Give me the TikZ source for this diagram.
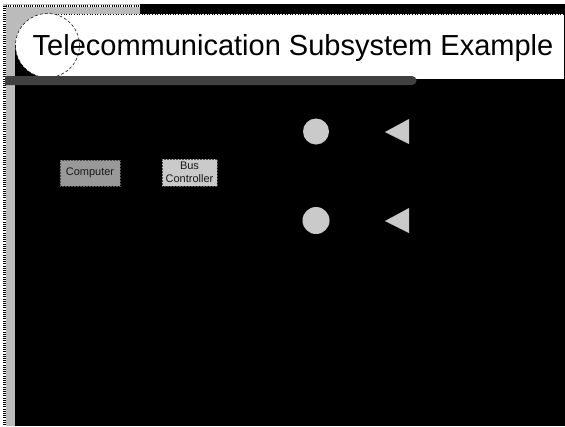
\documentclass[tikz,border=0pt]{standalone}
\usepackage{fontspec}
\setmainfont{Liberation Sans}
\definecolor{stripgray}{HTML}{BBBBBB}
\definecolor{bardark}{HTML}{404040}
\definecolor{compgray}{HTML}{999999}
\definecolor{lightgray}{HTML}{CACACA}
\tikzset{
  frame/.style={draw=black, line width=0.6pt, dotted},
  blockbox/.style={draw=black!70, line width=0.5pt, densely dotted, inner sep=1pt, align=center,
    font=\fontsize{11}{12.5}\selectfont, text=black!90},
  dot/.style={circle, fill=lightgray, draw=lightgray!70!black, line width=0.3pt, densely dotted, inner sep=0pt},
  tri/.style={fill=lightgray, draw=lightgray!70!black, line width=0.3pt, densely dotted},
}
\begin{document}
\begin{tikzpicture}[x=1pt,y=-1pt]
\useasboundingbox (0,0) rectangle (565,426);
% background
\fill[white] (0,0) rectangle (565,426);
\fill[black] (3,4) rectangle (565,426);
% gray decorative strip
\fill[stripgray] (3,4) rectangle (15,426);
\fill[stripgray] (3,4) rectangle (140,14);
\fill[stripgray] (15,14) rectangle (48,46);
\draw[white, line width=2.4pt] (4.5,6) -- (4.5,426);
\draw[black, line width=2.4pt, dash pattern=on 1pt off 1.2pt] (4.5,6) -- (4.5,426);
\draw[white, line width=2pt] (6,5.5) -- (140,5.5);
\draw[black, line width=2pt, dash pattern=on 1pt off 1.2pt] (6,5.5) -- (140,5.5);
% title box
\fill[white] (48,14) rectangle (564,79);
\draw[frame] (48,14) -- (564,14) -- (564,79) -- (415,79);
\node[circle, fill=white, draw=black, line width=0.5pt, densely dashed, minimum size=64pt, inner sep=0pt] (ring) at (47.5,45.5) {};
% dark bar
\fill[bardark] (5,76) -- (412,76) arc[start angle=-90, end angle=90, radius=4.5] -- (5,85) -- cycle;
% title
\node[anchor=base west, inner sep=0pt, font=\fontsize{29}{34}\selectfont] (title) at (32.5,55.5) {Telecommunication Subsystem Example};
% blocks
\node[blockbox, fill=compgray, minimum width=60pt, minimum height=26pt] (computer) at (90,173) {Computer};
\node[blockbox, fill=lightgray, minimum width=55pt, minimum height=27pt] (busctl) at (189.5,172.5) {Bus\\Controller};
% circles
\node[dot, minimum size=26pt] (c1) at (316,131.5) {};
\node[dot, minimum size=27pt] (c2) at (316,220.5) {};
% triangles
\coordinate (t1) at (385,132);
\coordinate (t2) at (385,221);
\path[tri] (t1) -- ++(24,-13) -- ++(0,25) -- cycle;
\path[tri] (t2) -- ++(24,-13) -- ++(0,25) -- cycle;
\end{tikzpicture}
\end{document}
